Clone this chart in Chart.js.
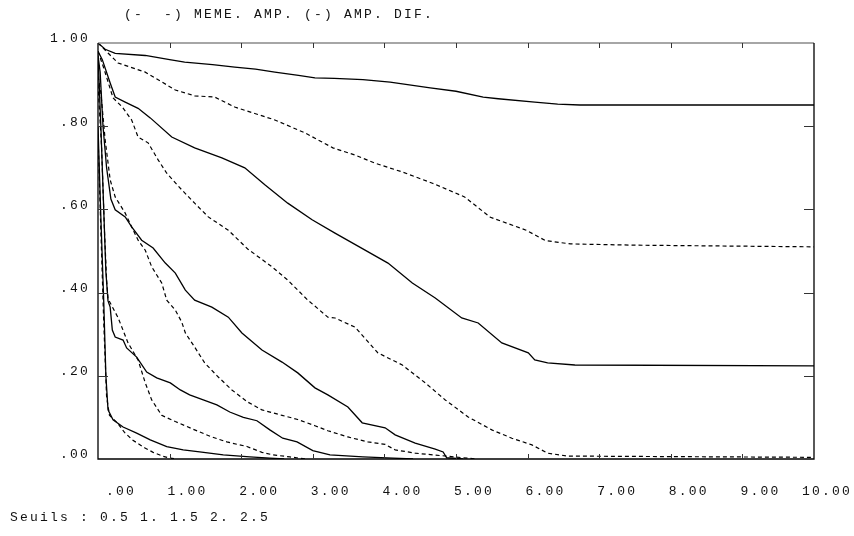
<!DOCTYPE html>
<html>
<head>
<meta charset="utf-8">
<script src="https://cdn.jsdelivr.net/npm/chart.js@4/dist/chart.umd.min.js"></script>
<style>
html,body{margin:0;padding:0;background:#fff;}
canvas{display:block;}
</style>
</head>
<body>
<canvas id="c" width="854" height="536"></canvas>
<script>
// ---- data (x = distance, y = proportion) ----
const titleText = "(-  -) MEME. AMP. (-) AMP. DIF.";
const footerText = "Seuils : 0.5 1. 1.5 2. 2.5";
const xTickValues = [0,1,2,3,4,5,6,7,8,9,10];
const xTickLabels = [".00","1.00","2.00","3.00","4.00","5.00","6.00","7.00","8.00","9.00","10.00"];
const yTickValues = [0,0.2,0.4,0.6,0.8,1.0];
const yTickLabels = [".00",".20",".40",".60",".80","1.00"];

// threshold 0.5
const dif05 = [[0,1.0],[0.1,0.985],[0.24,0.975],[0.66,0.970],[1.0,0.96],[1.21,0.954],[1.6,0.948],[1.91,0.942],[2.2,0.937],[2.47,0.930],[2.8,0.922],[3.03,0.916],[3.3,0.915],[3.7,0.912],[4.08,0.906],[4.64,0.892],[5.0,0.884],[5.38,0.870],[5.59,0.866],[6.1,0.858],[6.42,0.853],[6.73,0.851],[10,0.851]];
const meme05 = [[0,1.0],[0.14,0.976],[0.28,0.952],[0.66,0.930],[1.08,0.887],[1.35,0.873],[1.63,0.870],[1.91,0.846],[2.2,0.83],[2.47,0.815],[2.89,0.784],[3.28,0.748],[3.6,0.73],[3.87,0.711],[4.25,0.690],[4.67,0.663],[5.12,0.630],[5.48,0.581],[5.98,0.550],[6.25,0.525],[6.6,0.517],[7.5,0.514],[10,0.510]];
// threshold 1.0
const dif10 = [[0,0.98],[0.06,0.96],[0.17,0.904],[0.24,0.870],[0.38,0.858],[0.56,0.843],[0.73,0.820],[1.03,0.774],[1.35,0.748],[1.73,0.724],[2.05,0.700],[2.33,0.659],[2.65,0.615],[2.99,0.575],[3.31,0.543],[3.73,0.502],[4.05,0.471],[4.39,0.423],[4.71,0.387],[5.08,0.339],[5.31,0.327],[5.64,0.279],[6.01,0.255],[6.10,0.238],[6.28,0.231],[6.66,0.226],[10,0.224]];
const meme10 = [[0,0.98],[0.08,0.94],[0.21,0.868],[0.34,0.846],[0.47,0.815],[0.56,0.774],[0.70,0.760],[0.84,0.719],[0.96,0.687],[1.17,0.647],[1.35,0.615],[1.54,0.582],[1.82,0.550],[2.09,0.505],[2.43,0.462],[2.65,0.430],[2.93,0.382],[3.21,0.341],[3.31,0.339],[3.59,0.317],[3.91,0.255],[4.25,0.226],[4.57,0.183],[4.85,0.142],[5.17,0.101],[5.50,0.070],[5.78,0.050],[6.06,0.034],[6.28,0.014],[6.56,0.007],[10,0.004]];
// threshold 1.5
const dif15 = [[0,0.97],[0.03,0.93],[0.07,0.80],[0.12,0.70],[0.18,0.625],[0.24,0.599],[0.38,0.582],[0.47,0.558],[0.61,0.526],[0.77,0.507],[0.94,0.471],[1.08,0.447],[1.22,0.406],[1.35,0.382],[1.59,0.365],[1.82,0.341],[2.01,0.303],[2.29,0.262],[2.57,0.233],[2.79,0.207],[3.03,0.171],[3.21,0.154],[3.49,0.125],[3.69,0.087],[4.01,0.075],[4.15,0.058],[4.43,0.038],[4.71,0.024],[4.82,0.017],[4.87,0.003],[5.1,0]];
const meme15 = [[0,0.92],[0.04,0.88],[0.10,0.767],[0.17,0.671],[0.24,0.630],[0.38,0.591],[0.47,0.558],[0.56,0.526],[0.66,0.502],[0.75,0.462],[0.89,0.423],[0.96,0.382],[1.08,0.358],[1.17,0.329],[1.22,0.303],[1.35,0.269],[1.49,0.231],[1.68,0.197],[1.87,0.166],[2.09,0.137],[2.29,0.118],[2.57,0.105],[2.79,0.095],[3.03,0.080],[3.21,0.068],[3.49,0.053],[3.77,0.041],[4.01,0.035],[4.15,0.022],[4.43,0.014],[4.80,0.008],[5.1,0.003],[5.3,0]];
// threshold 2.0
const dif20 = [[0,0.97],[0.04,0.80],[0.08,0.60],[0.11,0.45],[0.14,0.38],[0.17,0.365],[0.20,0.31],[0.24,0.293],[0.35,0.286],[0.40,0.267],[0.54,0.245],[0.68,0.209],[0.82,0.195],[1.01,0.183],[1.15,0.166],[1.28,0.154],[1.47,0.142],[1.66,0.130],[1.84,0.113],[2.03,0.100],[2.22,0.092],[2.40,0.070],[2.58,0.050],[2.78,0.041],[3.0,0.020],[3.24,0.010],[3.7,0.005],[4.12,0.002],[4.4,0]];
const meme20 = [[0,0.90],[0.05,0.75],[0.09,0.55],[0.12,0.43],[0.14,0.385],[0.28,0.34],[0.42,0.279],[0.56,0.238],[0.66,0.183],[0.75,0.142],[0.89,0.105],[1.08,0.090],[1.35,0.070],[1.59,0.053],[1.80,0.041],[2.08,0.030],[2.29,0.016],[2.44,0.010],[2.68,0.005],[2.9,0]];
// threshold 2.5
const dif25 = [[0,0.80],[0.04,0.58],[0.08,0.38],[0.11,0.20],[0.14,0.118],[0.21,0.094],[0.35,0.077],[0.54,0.062],[0.73,0.046],[0.96,0.030],[1.19,0.022],[1.42,0.017],[1.75,0.010],[2.12,0.005],[2.40,0.002],[2.6,0]];
const meme25 = [[0,0.78],[0.04,0.55],[0.08,0.33],[0.12,0.15],[0.16,0.105],[0.27,0.087],[0.37,0.064],[0.48,0.046],[0.65,0.027],[0.77,0.016],[0.90,0.007],[1.0,0.002],[1.1,0]];

const solidSeries = [dif05, dif10, dif15, dif20, dif25];
const dashedSeries = [meme05, meme10, meme15, meme20, meme25];

function toPts(arr){ return arr.map(p => ({x:p[0], y:p[1]})); }
const datasets = [];
solidSeries.forEach(s => datasets.push({data: toPts(s), borderColor:'#000', borderWidth:1.3, pointRadius:0, tension:0, fill:false}));
dashedSeries.forEach(s => datasets.push({data: toPts(s), borderColor:'#000', borderWidth:1.2, borderDash:[4,3], pointRadius:0, tension:0, fill:false}));

const FONT = "13px 'Liberation Mono', 'DejaVu Sans Mono', monospace";
const SPACING = 2.2;

const framePlugin = {
  id: 'frame',
  afterDraw(chart){
    const ctx = chart.ctx;
    const xs = chart.scales.x, ys = chart.scales.y;
    const L = xs.getPixelForValue(0), R = xs.getPixelForValue(10);
    const T = ys.getPixelForValue(1), B = ys.getPixelForValue(0);
    ctx.save();
    // axes frame
    ctx.lineWidth = 1.6; ctx.strokeStyle = '#888';
    ctx.beginPath(); ctx.moveTo(L, T); ctx.lineTo(R, T); ctx.stroke();
    ctx.lineWidth = 1.3; ctx.strokeStyle = '#000';
    ctx.beginPath(); ctx.moveTo(L, T); ctx.lineTo(L, B); ctx.lineTo(R, B); ctx.lineTo(R, T); ctx.stroke();
    // ticks
    ctx.lineWidth = 1; ctx.strokeStyle = '#333';
    xTickValues.forEach(v => {
      if (v === 0 || v === 10) return;
      const px = Math.round(xs.getPixelForValue(v)) + 0.5;
      ctx.beginPath(); ctx.moveTo(px, T); ctx.lineTo(px, T + 5); ctx.stroke();
      ctx.beginPath(); ctx.moveTo(px, B); ctx.lineTo(px, B - 5); ctx.stroke();
    });
    yTickValues.forEach(v => {
      if (v === 0 || v === 1) return;
      const py = Math.round(ys.getPixelForValue(v)) + 0.5;
      ctx.beginPath(); ctx.moveTo(L, py); ctx.lineTo(L + 10, py); ctx.stroke();
      ctx.beginPath(); ctx.moveTo(R, py); ctx.lineTo(R - 10, py); ctx.stroke();
    });
    // text
    ctx.fillStyle = '#111';
    ctx.font = FONT;
    if ('letterSpacing' in ctx) ctx.letterSpacing = SPACING + 'px';
    ctx.textBaseline = 'middle';
    ctx.textAlign = 'left';
    ctx.fillText(titleText, 124, 15);
    ctx.fillText(footerText, 10, 518);
    ctx.textAlign = 'right';
    yTickValues.forEach((v, i) => {
      ctx.fillText(yTickLabels[i], 90, ys.getPixelForValue(v) - 4);
    });
    xTickValues.forEach((v, i) => {
      ctx.fillText(xTickLabels[i], xs.getPixelForValue(v) + 38, 492);
    });
    ctx.restore();
  }
};

new Chart(document.getElementById('c'), {
  type: 'line',
  data: { datasets },
  options: {
    responsive: false,
    animation: false,
    parsing: true,
    layout: { padding: { left: 98, right: 40, top: 43, bottom: 77 } },
    plugins: { legend: { display: false }, tooltip: { enabled: false }, title: { display: false } },
    scales: {
      x: { type: 'linear', min: 0, max: 10, display: false },
      y: { type: 'linear', min: 0, max: 1, display: false }
    }
  },
  plugins: [framePlugin]
});
</script>
</body>
</html>
